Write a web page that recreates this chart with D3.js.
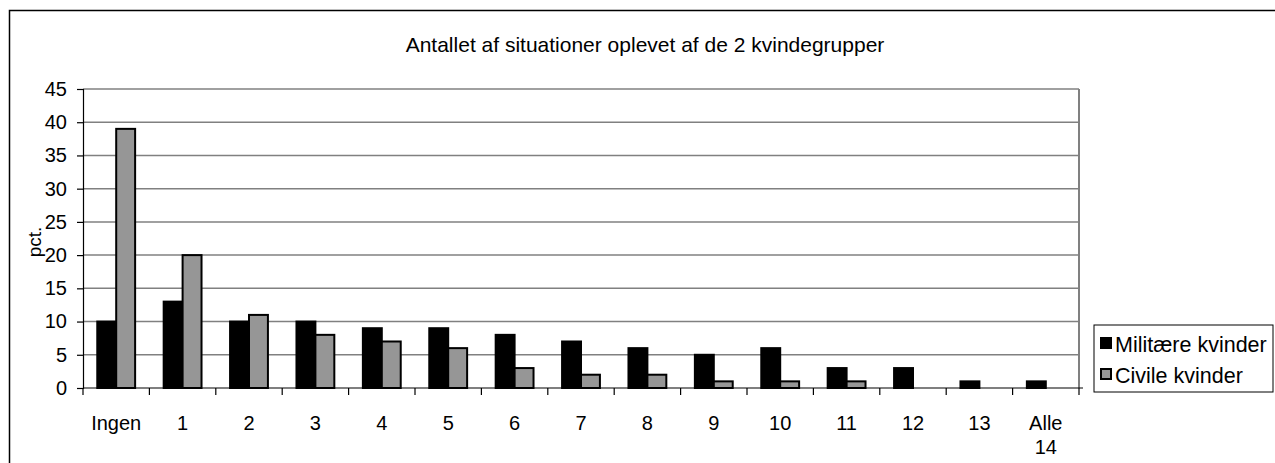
<!DOCTYPE html>
<html>
<head>
<meta charset="utf-8">
<script src="https://cdn.jsdelivr.net/npm/d3@7"></script>
<style>
  body { margin: 0; background: #fff; }
  svg { display: block; font-family: "Liberation Sans", Arial, sans-serif; }
</style>
</head>
<body>
<svg id="chart"></svg>
<script>
const categories = ["Ingen", "1", "2", "3", "4", "5", "6", "7", "8", "9", "10", "11", "12", "13", "Alle 14"];
const militaere = [10, 13, 10, 10, 9, 9, 8, 7, 6, 5, 6, 3, 3, 1, 1];
const civile = [39, 20, 11, 8, 7, 6, 3, 2, 2, 1, 1, 1, 0, 0, 0];
const seriesNames = ["Militære kvinder", "Civile kvinder"];
const seriesColors = ["#000000", "#969696"];
const yTicks = [0, 5, 10, 15, 20, 25, 30, 35, 40, 45];

const width = 1275;
const height = 463;
const marginLeft = 83;
const marginRight = 1079;
const marginTop = 89;
const marginBottom = 388;

const svg = d3.select("#chart")
    .attr("width", width)
    .attr("height", height);

// outer frame
svg.append("rect")
    .attr("x", 9.5).attr("y", 10.5)
    .attr("width", width).attr("height", height)
    .attr("fill", "none")
    .attr("stroke", "#000")
    .attr("stroke-width", 1.5);

svg.append("text")
    .attr("x", 645).attr("y", 52)
    .attr("text-anchor", "middle")
    .attr("font-size", 21)
    .text("Antallet af situationer oplevet af de 2 kvindegrupper");

const x = d3.scaleBand(categories, [marginLeft, marginRight]).paddingInner(0.43).paddingOuter(0.215);
const xs = d3.scaleBand([0, 1], [0, x.bandwidth()]);
const y = d3.scaleLinear([0, 45], [marginBottom, marginTop]);

// gridlines
svg.append("g")
    .selectAll("line")
    .data(yTicks.filter(d => d > 0))
    .join("line")
    .attr("x1", marginLeft).attr("x2", marginRight)
    .attr("y1", d => y(d)).attr("y2", d => y(d))
    .attr("stroke", "#808080")
    .attr("stroke-width", 1.5);

// plot border right
svg.append("line")
    .attr("x1", marginRight).attr("x2", marginRight)
    .attr("y1", marginTop).attr("y2", marginBottom)
    .attr("stroke", "#808080")
    .attr("stroke-width", 2);

// bars
const rows = categories.map((c, i) => ({ cat: c, vals: [militaere[i], civile[i]] }));
svg.append("g")
    .selectAll("g")
    .data(rows)
    .join("g")
    .attr("transform", d => `translate(${x(d.cat)},0)`)
    .selectAll("rect")
    .data(d => d.vals.map((v, k) => ({ v, k })).filter(e => e.v > 0))
    .join("rect")
    .attr("x", d => xs(d.k))
    .attr("y", d => y(d.v))
    .attr("width", xs.bandwidth())
    .attr("height", d => y(0) - y(d.v))
    .attr("fill", d => seriesColors[d.k])
    .attr("stroke", "#000")
    .attr("stroke-width", 2);

// y axis
svg.append("g")
    .attr("transform", `translate(${marginLeft},0)`)
    .call(d3.axisLeft(y).tickValues(yTicks).tickSize(6).tickPadding(10))
    .call(g => g.selectAll("text").attr("font-size", 20).attr("font-family", "Liberation Sans, Arial, sans-serif").attr("fill", "#000"))
    .call(g => g.selectAll("line, path").attr("stroke", "#000").attr("stroke-width", 1.2));

// x axis
const xAxis = svg.append("g")
    .attr("transform", `translate(0,${marginBottom})`);
xAxis.append("line")
    .attr("x1", marginLeft).attr("x2", marginRight + 4)
    .attr("stroke", "#000").attr("stroke-width", 1.2);
xAxis.selectAll(".tickmark")
    .data(categories.concat(["end"]))
    .join("line")
    .attr("class", "tickmark")
    .attr("x1", (d, i) => marginLeft + i * x.step())
    .attr("x2", (d, i) => marginLeft + i * x.step())
    .attr("y1", 0).attr("y2", 7)
    .attr("stroke", "#000").attr("stroke-width", 1.2);
xAxis.selectAll(".lbl")
    .data(categories)
    .join("text")
    .attr("class", "lbl")
    .attr("x", d => x(d) + x.bandwidth() / 2)
    .attr("y", 42)
    .attr("text-anchor", "middle")
    .attr("font-size", 20)
    .each(function(d) {
        const parts = d.split(" ");
        d3.select(this).selectAll("tspan")
            .data(parts)
            .join("tspan")
            .attr("x", x(d) + x.bandwidth() / 2)
            .attr("dy", (p, i) => i === 0 ? 0 : 24)
            .text(p => p);
    });

// y axis title
svg.append("text")
    .attr("transform", "translate(41,242) rotate(-90)")
    .attr("text-anchor", "middle")
    .attr("font-size", 19)
    .text("pct.");

// legend
const legend = svg.append("g").attr("transform", "translate(1094,325)");
legend.append("rect")
    .attr("width", 179).attr("height", 67)
    .attr("fill", "#fff").attr("stroke", "#000").attr("stroke-width", 1);
legend.selectAll(".sw")
    .data(seriesNames)
    .join("rect")
    .attr("class", "sw")
    .attr("x", 7).attr("y", (d, i) => 13 + i * 31)
    .attr("width", 10).attr("height", 10)
    .attr("fill", (d, i) => seriesColors[i])
    .attr("stroke", "#000").attr("stroke-width", 2);
legend.selectAll(".lt")
    .data(seriesNames)
    .join("text")
    .attr("class", "lt")
    .attr("x", 21).attr("y", (d, i) => 27 + i * 31)
    .attr("font-size", 21.5)
    .text(d => d);
</script>
</body>
</html>
